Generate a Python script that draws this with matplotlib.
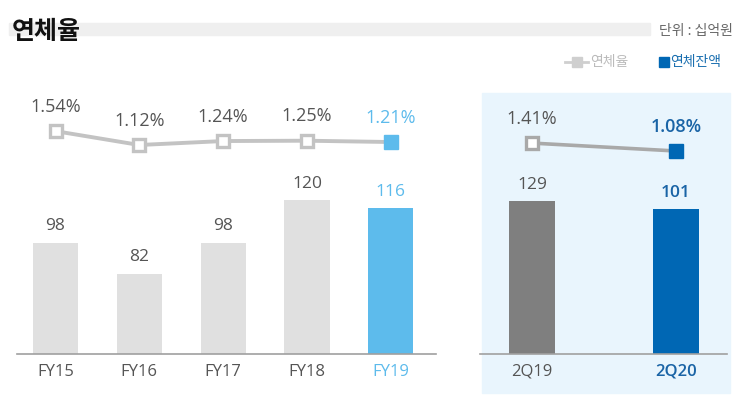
import matplotlib
matplotlib.use("Agg")
import matplotlib.pyplot as plt
from matplotlib.patches import Rectangle

# ---- data ----
fy_labels = ["FY15", "FY16", "FY17", "FY18", "FY19"]
fy_balance = [98, 82, 98, 120, 116]
fy_rate = [1.54, 1.12, 1.24, 1.25, 1.21]
q_labels = ["2Q19", "2Q20"]
q_balance = [129, 101]
q_rate = [1.41, 1.08]

KR = ["Noto Sans CJK KR", "DejaVu Sans"]
NUM = ["Open Sans", "DejaVu Sans"]

W, H = 745, 399
fig = plt.figure(figsize=(W / 100, H / 100), dpi=100)

def fx(px):
    return px / W

def fy(py):
    return 1 - py / H

GRAY_TXT = "#555555"
LINE_GRAY = "#c3c3c3"
LIGHT_BLUE = "#5dbbec"
DARK_BLUE = "#0067b4"
TXT_BLUE = "#1a64a6"

# title band and title
fig.patches.append(Rectangle((fx(9), fy(35)), fx(650) - fx(9), fy(23) - fy(35),
                             transform=fig.transFigure, color="#efefef", zorder=-2))
fig.text(fx(12), fy(32), "연체율", family=KR, fontsize=18, fontweight="bold",
         color="#111111", va="center", ha="left")
fig.text(fx(733), fy(31), "단위 : 십억원", family=KR, fontsize=10, color="#666666",
         va="center", ha="right")

# legend
fig.add_artist(plt.Line2D([fx(565), fx(588)], [fy(62), fy(62)], transform=fig.transFigure,
                          color="#cfcfcf", lw=2))
fig.add_artist(plt.Line2D([fx(576.5)], [fy(62)], transform=fig.transFigure, marker="s",
                          markersize=7, color="#cfcfcf"))
fig.text(fx(590), fy(62), "연체율", family=KR, fontsize=10, color="#bbbbbb", va="center")
fig.add_artist(plt.Line2D([fx(664)], [fy(62)], transform=fig.transFigure, marker="s",
                          markersize=6.5, color=DARK_BLUE, lw=0))
fig.text(fx(670), fy(62), "연체잔액", family=KR, fontsize=10, color="#1a6fb0", va="center")

# right panel background
fig.patches.append(Rectangle((fx(482), fy(393)), fx(730) - fx(482), fy(93) - fy(393),
                             transform=fig.transFigure, color="#e9f5fd", zorder=-2))

base_y, top_y = 354, 90

def make_axes(x0, x1):
    ax = fig.add_axes([fx(x0), fy(base_y), fx(x1) - fx(x0), fy(top_y) - fy(base_y)])
    ax.set_facecolor("none")
    for s in ["top", "left", "right"]:
        ax.spines[s].set_visible(False)
    ax.spines["bottom"].set_color("#a0a0a0")
    ax.spines["bottom"].set_linewidth(1.2)
    ax.set_yticks([])
    ax.tick_params(axis="x", length=0, pad=7)
    return ax

# ---- left panel ----
axL = make_axes(17, 436)
xs = list(range(len(fy_labels)))
bL = 40.4
axL.set_xlim(-0.46, 4.54)
axL.set_ylim(bL, bL + (base_y - top_y) / 1.93)
colsL = ["#e0e0e0"] * 4 + [LIGHT_BLUE]
axL.bar(xs, [v - bL for v in fy_balance], bottom=bL, width=0.54, color=colsL, zorder=2)
for x, v, c in zip(xs, fy_balance, colsL):
    axL.annotate(str(v), (x, v), xytext=(0, 6), textcoords="offset points", ha="center",
                 va="bottom", family=NUM, fontsize=12.5,
                 color=LIGHT_BLUE if c == LIGHT_BLUE else GRAY_TXT)
axL.set_xticks(xs)
axL.set_xticklabels(fy_labels, family=NUM, fontsize=12)
for i, t in enumerate(axL.get_xticklabels()):
    t.set_color(LIGHT_BLUE if i == 4 else GRAY_TXT)

tL = axL.twinx()
tL.set_facecolor("none")
tL.axis("off")
pxu = 33.0
lo = 1.12 - (base_y - 145) / pxu
tL.set_ylim(lo, lo + (base_y - top_y) / pxu)
tL.plot(xs, fy_rate, color=LINE_GRAY, lw=2.8, zorder=3)
tL.plot(xs[:-1], fy_rate[:-1], ls="none", marker="s", markersize=9, mfc="white",
        mec=LINE_GRAY, mew=2.4, zorder=4)
tL.plot(xs[-1:], fy_rate[-1:], ls="none", marker="s", markersize=10, color=LIGHT_BLUE, zorder=4)
for i, (x, v) in enumerate(zip(xs, fy_rate)):
    tL.annotate(f"{v:.2f}%", (x, v), xytext=(0, 11), textcoords="offset points", ha="center",
                va="bottom", family=NUM, fontsize=13,
                color=LIGHT_BLUE if i == 4 else GRAY_TXT)

# ---- right panel ----
axR = make_axes(480, 727)
xr = [0, 1]
bR = -406
axR.set_xlim(-0.361, 1.354)
axR.set_ylim(bR, bR + (base_y - top_y) / 0.286)
axR.bar(xr, [v - bR for v in q_balance], bottom=bR, width=0.32,
        color=["#7f7f7f", DARK_BLUE], zorder=2)
for x, v in zip(xr, q_balance):
    axR.annotate(str(v), (x, v), xytext=(0, 6), textcoords="offset points", ha="center",
                 va="bottom", family=NUM, fontsize=12.5,
                 color=GRAY_TXT if x == 0 else TXT_BLUE,
                 fontweight="normal" if x == 0 else "semibold")
axR.set_xticks(xr)
axR.set_xticklabels(q_labels, family=NUM, fontsize=12)
lbls = axR.get_xticklabels()
lbls[0].set_color(GRAY_TXT)
lbls[1].set_color(TXT_BLUE)
lbls[1].set_fontweight("semibold")

tR = axR.twinx()
tR.set_facecolor("none")
tR.axis("off")
pxr = 24.0
lor = 1.08 - (base_y - 151) / pxr
tR.set_ylim(lor, lor + (base_y - top_y) / pxr)
tR.plot(xr, q_rate, color="#a9a9a9", lw=2.6, zorder=3)
tR.plot(xr[:1], q_rate[:1], ls="none", marker="s", markersize=9, mfc="white",
        mec="#a9a9a9", mew=2.4, zorder=4)
tR.plot(xr[1:], q_rate[1:], ls="none", marker="s", markersize=10, color=DARK_BLUE, zorder=4)
for x, v in zip(xr, q_rate):
    tR.annotate(f"{v:.2f}%", (x, v), xytext=(0, 11), textcoords="offset points", ha="center",
                va="bottom", family=NUM, fontsize=13,
                color=GRAY_TXT if x == 0 else TXT_BLUE,
                fontweight="normal" if x == 0 else "semibold")

fig.savefig("out.png", dpi=100)
